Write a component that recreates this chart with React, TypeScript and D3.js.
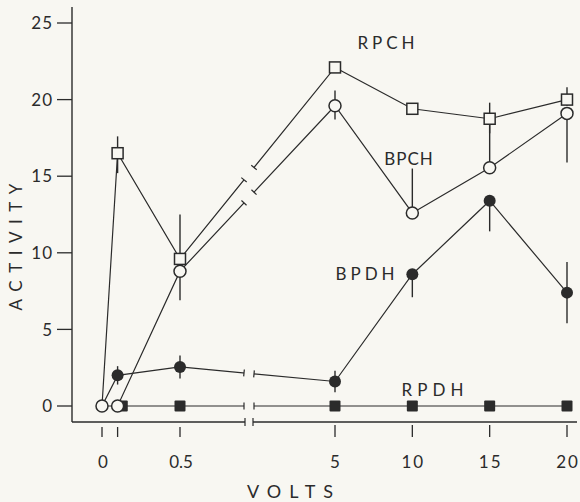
import React from 'react';
import * as d3 from 'd3';

const voltsRPCH = [0, 0.1, 0.5, 5, 10, 15, 20];
const rpch = [0, 16.5, 9.6, 22.1, 19.4, 18.75, 20.0];
const rpchLow = [null, 15.2, null, null, 19.2, 17.8, 19.6];
const rpchHigh = [null, 17.6, 12.5, null, 19.6, 19.8, 20.8];

const voltsBPCH = [0, 0.1, 0.5, 5, 10, 15, 20];
const bpch = [0, 0, 8.8, 19.6, 12.6, 15.55, 19.1];
const bpchLow = [null, null, 6.9, 18.7, null, null, 15.9];
const bpchHigh = [null, null, null, 20.6, 15.5, 18.9, null];

const voltsBPDH = [0, 0.1, 0.5, 5, 10, 15, 20];
const bpdh = [0, 2.0, 2.55, 1.6, 8.6, 13.4, 7.4];
const bpdhLow = [null, 1.4, 1.8, 0.9, 7.1, 11.4, 5.4];
const bpdhHigh = [null, 2.6, 3.3, 2.3, null, null, 9.4];

const voltsRPDH = [0.13, 0.5, 5, 10, 15, 20];
const rpdh = [0, 0, 0, 0, 0, 0];

const yTicks = [0, 5, 10, 15, 20, 25];
const xTicksLeft = [0, 0.1, 0.5];
const xLabelsLeft = ['0', '', '0.5'];
const xTicksRight = [5, 10, 15, 20];
const xLabelsRight = ['5', '10', '15', '20'];

const INK = '#2b2b2b';
const BG = '#f8f7f2';
const FONT = 'Lato, "DejaVu Sans", sans-serif';

const W = 580;
const H = 502;
const axisX = 72;
const axisY = 422;
const gapL = 244;
const gapR = 254;

const xLeft = d3.scaleLinear().domain([0, 0.5]).range([102, 180]);
const xRight = d3.scaleLinear().domain([5, 20]).range([335, 567]);
const xPos = (v: number) => (v < 2 ? xLeft(v) : xRight(v));
const y = d3.scaleLinear().domain([0, 25]).range([406, 23]);

type Pt = [number, number];

function pts(xs: number[], ys: number[]): Pt[] {
  return xs.map((v, i) => [xPos(v), y(ys[i])] as Pt);
}

// small bars at both sides of the break, perpendicular to the line
function breakMarks(p: Pt[], key: string) {
  const out: JSX.Element[] = [];
  for (let i = 0; i < p.length - 1; i++) {
    const [x0, y0] = p[i];
    const [x1, y1] = p[i + 1];
    if (x0 < gapL && x1 > gapR) {
      const dx = x1 - x0, dy = y1 - y0;
      const len = Math.hypot(dx, dy);
      const nx = -dy / len * 3.5, ny = dx / len * 3.5;
      [gapL, gapR].forEach((gx, j) => {
        const t = (gx - x0) / dx;
        const cx = x0 + dx * t, cy = y0 + dy * t;
        out.push(
          <line key={`${key}-b${i}-${j}`} x1={cx - nx} y1={cy - ny} x2={cx + nx} y2={cy + ny}
            stroke={INK} strokeWidth={1.2} />
        );
      });
    }
  }
  return out;
}

function errorBars(xs: number[], ys: number[], lo: (number | null)[], hi: (number | null)[], key: string) {
  return xs.map((v, i) => {
    const els: JSX.Element[] = [];
    if (hi[i] != null) {
      els.push(<line key={`${key}-h${i}`} x1={xPos(v)} x2={xPos(v)} y1={y(ys[i])} y2={y(hi[i] as number)}
        stroke={INK} strokeWidth={1.4} />);
    }
    if (lo[i] != null) {
      els.push(<line key={`${key}-l${i}`} x1={xPos(v)} x2={xPos(v)} y1={y(ys[i])} y2={y(lo[i] as number)}
        stroke={INK} strokeWidth={1.4} />);
    }
    return els;
  });
}

const line = d3.line<Pt>().x(d => d[0]).y(d => d[1]);

export default function App() {
  const pRPCH = pts(voltsRPCH, rpch);
  const pBPCH = pts(voltsBPCH, bpch);
  const pBPDH = pts(voltsBPDH, bpdh);
  const pRPDH = pts(voltsRPDH, rpdh);

  return (
    <div style={{ position: 'absolute', left: 0, top: 0 }}>
      <svg width={W} height={H} style={{ display: 'block', background: BG }}>
        <defs>
          <clipPath id="brk">
            <rect x={0} y={0} width={gapL} height={H} />
            <rect x={gapR} y={0} width={W - gapR} height={H} />
          </clipPath>
        </defs>

        {/* y axis */}
        <line x1={axisX} x2={axisX} y1={7} y2={axisY} stroke={INK} strokeWidth={1.4} />
        {yTicks.map(t => (
          <g key={`yt${t}`}>
            <line x1={57} x2={axisX} y1={y(t)} y2={y(t)} stroke={INK} strokeWidth={1.3} />
            <text x={53} y={y(t)} dy="0.36em" textAnchor="end" fontSize={17} fontFamily={FONT}
              fill={INK} letterSpacing={1}>{t}</text>
          </g>
        ))}
        <text transform={`translate(22,${247}) rotate(-90)`} textAnchor="middle" fontSize={17}
          fontFamily={FONT} fill={INK} letterSpacing={7.5} dx={3.7}>ACTIVITY</text>

        {/* x axis with break */}
        <line x1={axisX} x2={gapL + 1} y1={axisY} y2={axisY} stroke={INK} strokeWidth={1.4} />
        <line x1={gapR - 1} x2={W - 3} y1={axisY} y2={axisY} stroke={INK} strokeWidth={1.4} />
        <line x1={gapL + 1} x2={gapL + 1} y1={axisY - 4} y2={axisY + 4} stroke={INK} strokeWidth={1.2} />
        <line x1={gapR - 1} x2={gapR - 1} y1={axisY - 4} y2={axisY + 4} stroke={INK} strokeWidth={1.2} />
        {xTicksLeft.map((t, i) => (
          <g key={`xl${t}`}>
            <line x1={xLeft(t)} x2={xLeft(t)} y1={427} y2={437} stroke={INK} strokeWidth={1.3} />
            <text x={xLeft(t) + 1} y={462} dy="0.36em" textAnchor="middle" fontSize={17}
              fontFamily={FONT} fill={INK}>{xLabelsLeft[i]}</text>
          </g>
        ))}
        {xTicksRight.map((t, i) => (
          <g key={`xr${t}`}>
            <line x1={xRight(t)} x2={xRight(t)} y1={425} y2={437} stroke={INK} strokeWidth={1.3} />
            <text x={xRight(t) + 1} y={462} dy="0.36em" textAnchor="middle" fontSize={17}
              fontFamily={FONT} fill={INK} letterSpacing={2}>{xLabelsRight[i]}</text>
          </g>
        ))}
        <text x={294} y={492} dy="0.36em" textAnchor="middle" fontSize={18} fontFamily={FONT}
          fill={INK} letterSpacing={8}>VOLTS</text>

        {/* error bars */}
        {errorBars(voltsRPCH, rpch, rpchLow, rpchHigh, 'rpch')}
        {errorBars(voltsBPCH, bpch, bpchLow, bpchHigh, 'bpch')}
        {errorBars(voltsBPDH, bpdh, bpdhLow, bpdhHigh, 'bpdh')}

        {/* series lines */}
        <g clipPath="url(#brk)" fill="none" stroke={INK} strokeWidth={1.2}>
          <path d={line(pRPCH) || ''} />
          <path d={line(pBPCH) || ''} />
          <path d={line(pBPDH) || ''} />
          <path d={line(pRPDH) || ''} />
        </g>
        {breakMarks(pRPCH, 'rpch')}
        {breakMarks(pBPCH, 'bpch')}
        {breakMarks(pBPDH, 'bpdh')}
        {breakMarks(pRPDH, 'rpdh')}

        {/* markers */}
        {pRPDH.map((p, i) => (
          <rect key={`rpdh${i}`} x={p[0] - 5.5} y={p[1] - 5.5} width={11} height={11} fill={INK} rx={1} />
        ))}
        {pBPDH.slice(1).map((p, i) => (
          <circle key={`bpdh${i}`} cx={p[0]} cy={p[1]} r={6} fill={INK} />
        ))}
        {pBPCH.map((p, i) => (
          <circle key={`bpch${i}`} cx={p[0]} cy={p[1]} r={6} fill={BG} stroke={INK} strokeWidth={1.5} />
        ))}
        {pRPCH.slice(1).map((p, i) => (
          <rect key={`rpch${i}`} x={p[0] - 5.5} y={p[1] - 5.5} width={11} height={11} fill={BG}
            stroke={INK} strokeWidth={1.5} />
        ))}

        {/* series labels */}
        <text x={388} y={49} textAnchor="middle" fontSize={17} fontFamily={FONT} fill={INK} letterSpacing={4}>RPCH</text>
        <text x={409} y={165} textAnchor="middle" fontSize={17} fontFamily={FONT} fill={INK} letterSpacing={1}>BPCH</text>
        <text x={367} y={280} textAnchor="middle" fontSize={17} fontFamily={FONT} fill={INK} letterSpacing={4}>BPDH</text>
        <text x={435} y={396} textAnchor="middle" fontSize={17} fontFamily={FONT} fill={INK} letterSpacing={5}>RPDH</text>
      </svg>
    </div>
  );
}
